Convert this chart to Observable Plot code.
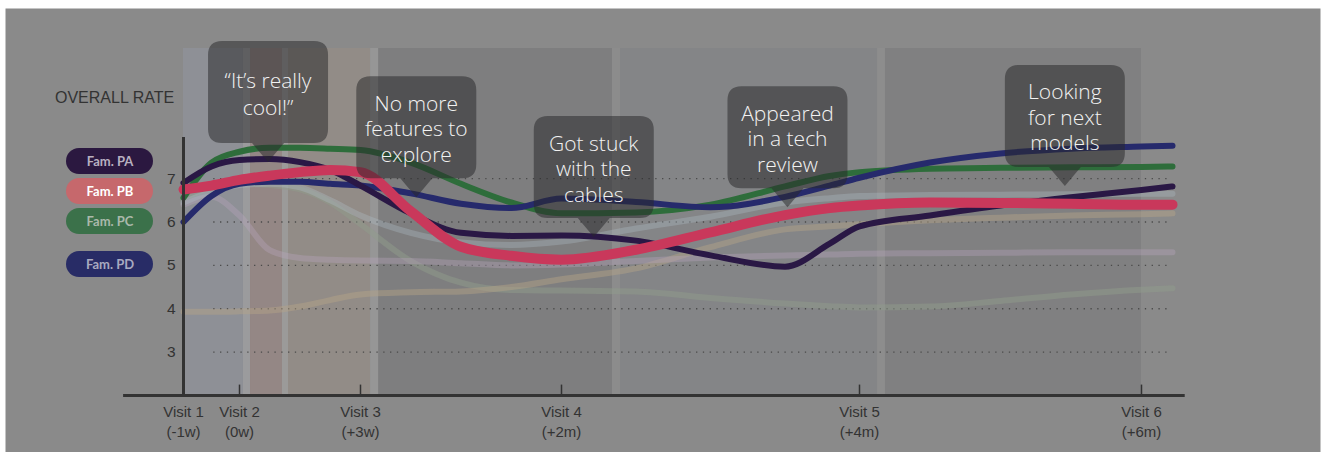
<!DOCTYPE html>
<html><head><meta charset="utf-8">
<script src="https://cdn.jsdelivr.net/npm/d3@7"></script>
<script src="https://cdn.jsdelivr.net/npm/@observablehq/plot@0.6"></script>
<style>
html,body{margin:0;padding:0;background:#fff;}
#chart{position:relative;width:1322px;height:452px;overflow:hidden;}
</style></head><body><div id="chart"></div>
<script>
// ---------- data ----------
const visits = [1, 2, 3, 4, 5, 6];
const visitLabels = ["Visit 1\n(-1w)", "Visit 2\n(0w)", "Visit 3\n(+3w)", "Visit 4\n(+2m)", "Visit 5\n(+4m)", "Visit 6\n(+6m)"];
const yTicks = [3, 4, 5, 6, 7];
const yTitle = "OVERALL RATE";

// sample positions, in visit units
const t = [1, 1.5, 2, 2.25, 2.5, 2.75, 3, 3.25, 3.5, 3.75, 4, 4.25, 4.5, 4.75, 4.9, 5, 5.25, 5.5, 5.75, 6, 6.11];

const famPA = [6.9, 7.28, 7.43, 7.45, 7.38, 7.2, 6.84, 6.2, 5.75, 5.68, 5.69, 5.57, 5.23, 4.97, 5.5, 5.9, 6.15, 6.38, 6.57, 6.74, 6.82];
const famPB = [6.75, 6.84, 6.97, 7.07, 7.15, 7.2, 7.15, 6.25, 5.43, 5.22, 5.13, 5.36, 5.76, 6.16, 6.32, 6.38, 6.45, 6.44, 6.42, 6.4, 6.4];
const famPC = [6.56, 7.37, 7.62, 7.71, 7.71, 7.69, 7.66, 7.37, 6.88, 6.45, 6.2, 6.22, 6.4, 6.82, 7.06, 7.15, 7.23, 7.25, 7.26, 7.27, 7.28];
const famPD = [6.0, 6.6, 6.88, 6.93, 6.93, 6.88, 6.84, 6.66, 6.42, 6.32, 6.54, 6.46, 6.34, 6.58, 6.84, 7.02, 7.37, 7.58, 7.69, 7.74, 7.76];

const otherBlue = [6.45, 6.7, 6.85, 6.88, 6.8, 6.5, 6.15, 5.75, 5.53, 5.47, 5.55, 5.85, 6.12, 6.45, 6.55, 6.6, 6.62, 6.63, 6.64, 6.65, 6.65];
const otherLilac = [6.4, 6.58, 6.15, 5.35, 5.17, 5.13, 5.11, 5.1, 5.05, 5.0, 5.02, 5.1, 5.18, 5.23, 5.25, 5.27, 5.28, 5.29, 5.3, 5.3, 5.3];
const otherTan = [3.93, 3.93, 3.94, 3.96, 4.05, 4.2, 4.33, 4.38, 4.4, 4.5, 4.68, 4.93, 5.42, 5.83, 5.9, 5.95, 6.04, 6.1, 6.15, 6.18, 6.2];
const otherOlive = [6.55, 6.8, 6.9, 6.85, 6.75, 6.45, 5.95, 5.1, 4.6, 4.43, 4.42, 4.4, 4.25, 4.12, 4.06, 4.03, 4.05, 4.18, 4.33, 4.44, 4.47];

const families = ["Fam. PA", "Fam. PB", "Fam. PC", "Fam. PD"];

// study phases (visit units)
const phaseStart = [1, 2.091, 2.405, 3.09, 4.198, 5.092];
const phaseEnd = [2.033, 2.355, 3.05, 4.171, 5.064, 6];
const dividerStart = [2.033, 2.355, 3.05, 4.171, 5.064];
const dividerEnd = [2.091, 2.405, 3.09, 4.198, 5.092];

// annotations
const notes = ["“It’s really\ncool!”", "No more\nfeatures to\nexplore", "Got stuck\nwith the\ncables", "Appeared\nin a tech\nreview", "Looking\nfor next\nmodels"];
const noteT = [2.24, 3.28, 4.11, 4.76, 5.73];
const noteV = [7.37, 6.56, 5.64, 6.33, 6.82];

// ---------- styles ----------
const visitPixels = [183, 239, 360, 561, 859, 1141]; // layout of the visit axis
const phaseFill = ["#8e9096", "#948785", "#928c87", "#7e7e7f", "#848587", "#808081"];
const dividerFill = ["#9b9b9d", "#9b9a99", "#969696", "#8c8c8c", "#8d8d8d"];
const seriesDefs = [
  {v: otherOlive, stroke: "#8f9c8b", opacity: 0.5, w: 6},
  {v: otherTan, stroke: "#b5a487", opacity: 0.45, w: 6},
  {v: otherLilac, stroke: "#bba5c0", opacity: 0.35, w: 6},
  {v: otherBlue, stroke: "#b0c0c8", opacity: 0.33, w: 6},
  {v: famPC, stroke: "#2e6d3b", opacity: 1, w: 6},
  {v: famPD, stroke: "#262a6c", opacity: 1, w: 6},
  {v: famPA, stroke: "#2a1845", opacity: 1, w: 6},
  {v: famPB, stroke: "#c9385b", opacity: 1, w: 10}
];
const pillFill = ["#2b1840", "#c6686c", "#3b714a", "#282c66"];
const pillText = ["#b8b0c0", "#ffffff", "#aab8ab", "#a8aac0"];

const yMin = 2, yTop = 10, yAxisTop = 7.95;
const axisLeftT = -0.07, axisRightT = 6.155, gridStartT = 1.54;

// piecewise visit axis: visits are not evenly spaced in the original
const warp = d3.scaleLinear().domain(visits).range(visitPixels);

const lineMarks = seriesDefs.map(s => Plot.line(t.map((tt, i) => ({t: tt, v: s.v[i]})), {
  x: "t", y: "v", stroke: s.stroke, strokeOpacity: s.opacity, strokeWidth: s.w,
  curve: "monotone-x", strokeLinecap: "round", strokeLinejoin: "round"
}));

const idx = n => d3.range(n);

const plot = Plot.plot({
  width: 1322, height: 452,
  marginTop: 0, marginRight: 0, marginBottom: 0, marginLeft: 0,
  x: {type: "linear", transform: warp, domain: [0, 1322], range: [0, 1322], axis: null},
  y: {type: "linear", domain: [yMin, yTop], range: [395, 48], axis: null},
  color: {type: "identity"},
  style: {fontFamily: "'Liberation Sans', Arial, sans-serif", background: "#fff", overflow: "visible"},
  marks: [
    Plot.frame({fill: "#8a8a8a", stroke: null, insetLeft: 5, insetTop: 8, insetRight: 2}),
    Plot.rect(idx(phaseStart.length), {x1: i => phaseStart[i], x2: i => phaseEnd[i], y1: yMin, y2: yTop, fill: i => phaseFill[i]}),
    Plot.rect(idx(dividerStart.length), {x1: i => dividerStart[i], x2: i => dividerEnd[i], y1: yMin, y2: yTop, fill: i => dividerFill[i]}),
    Plot.ruleY(yTicks, {x1: gridStartT, x2: t[t.length - 1], stroke: "#4a4a4a", strokeWidth: 1.3, strokeDasharray: "1.3,5.5"}),
    ...lineMarks,
    Plot.ruleX([visits[0]], {y1: yMin, y2: yAxisTop, stroke: "#333", strokeWidth: 3}),
    Plot.ruleY([yMin], {x1: axisLeftT, x2: axisRightT, stroke: "#333", strokeWidth: 3}),
    Plot.ruleX(visits.slice(1), {y1: yMin, y2: yMin + 0.24, stroke: "#333", strokeWidth: 1.5}),
    Plot.text(yTicks, {x: visits[0], y: d => d, dx: -8, textAnchor: "end", fill: "#333", fontSize: 15.5}),
    Plot.text(visits, {x: d => d, y: yMin, text: (d, i) => visitLabels[i], lineAnchor: "top", dy: 8, lineHeight: 1.3, fill: "#333", fontSize: 15})
  ]
});

document.getElementById("chart").appendChild(plot);

// ---------- title, legend and callouts ----------
const svg = d3.select(plot);
const sx = plot.scale("x"), sy = plot.scale("y");
const px = v => sx.apply(warp(v));

svg.append("text").attr("x", 55).attr("y", 97).attr("dominant-baseline", "central")
  .attr("text-anchor", "start")
  .attr("fill", "#333").attr("font-size", 16).attr("font-family", "'Liberation Sans', Arial, sans-serif")
  .text(yTitle);

const pillY = [161, 191, 221, 264];
const lg = svg.append("g");
families.forEach((f, i) => {
  lg.append("rect").attr("x", 66).attr("y", pillY[i] - 13).attr("width", 87).attr("height", 26)
    .attr("rx", 13).attr("fill", pillFill[i]);
  lg.append("text").attr("x", 110).attr("y", pillY[i]).attr("text-anchor", "middle")
    .attr("dominant-baseline", "central").attr("fill", pillText[i]).attr("font-size", 13)
    .attr("font-weight", 700).attr("font-family", "Lato, 'Open Sans', sans-serif").text(f);
});

const bw = 120, bh = 102, ptr = 19, half = 16, r = 14;
const ng = svg.append("g");
notes.forEach((txt, i) => {
  const tx = px(noteT[i]), ty = sy.apply(noteV[i]);
  const bottom = ty - ptr, top = bottom - bh, left = tx - bw / 2, right = tx + bw / 2;
  const p = `M${left + r},${top}H${right - r}Q${right},${top} ${right},${top + r}V${bottom - r}Q${right},${bottom} ${right - r},${bottom}H${tx + half}L${tx},${ty}L${tx - half},${bottom}H${left + r}Q${left},${bottom} ${left},${bottom - r}V${top + r}Q${left},${top} ${left + r},${top}Z`;
  ng.append("path").attr("d", p).attr("fill", "rgba(40,40,42,0.52)");
  const lines = txt.split("\n");
  const lh = lines.length === 2 ? 27 : 25.5;
  const cy = top + bh / 2 + 1;
  lines.forEach((ln, j) => {
    ng.append("text").attr("x", tx).attr("y", cy + (j - (lines.length - 1) / 2) * lh)
      .attr("text-anchor", "middle").attr("dominant-baseline", "central")
      .attr("fill", "#f2f2f2").attr("font-size", 21).attr("font-weight", 300)
      .attr("font-family", "'Open Sans', Roboto, sans-serif").text(ln);
  });
});
</script></body></html>
